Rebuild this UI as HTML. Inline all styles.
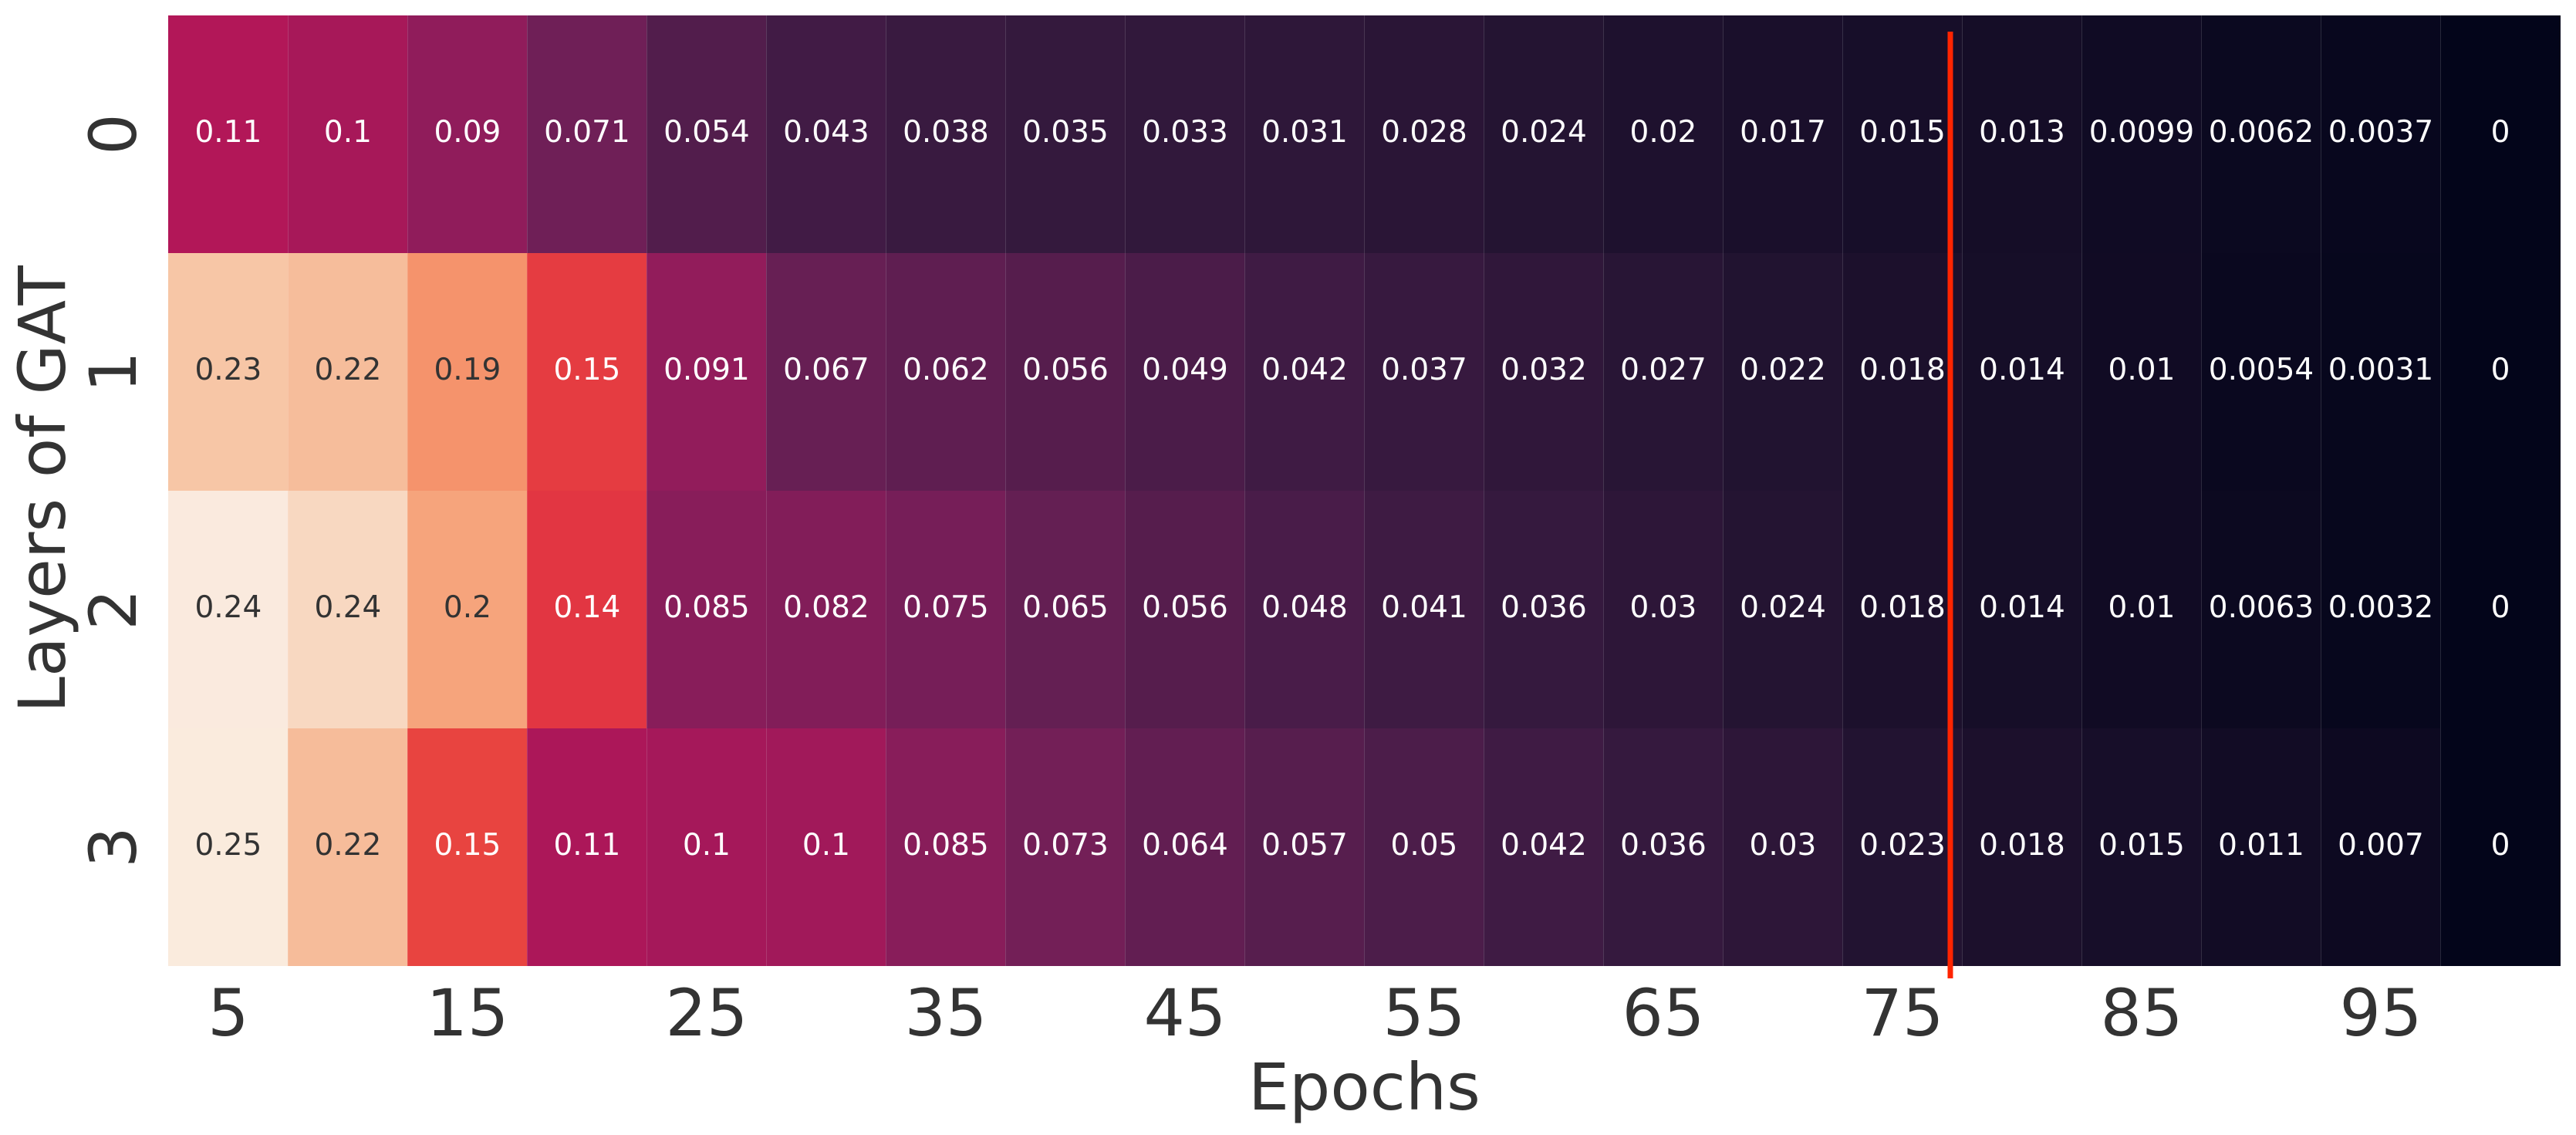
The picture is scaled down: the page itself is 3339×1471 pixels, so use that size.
<!DOCTYPE html>
<html>
<head>
<meta charset="utf-8">
<title>Layers of GAT heatmap</title>
<style>
html,body{margin:0;padding:0;background:#fff;width:3339px;height:1471px;overflow:hidden}
svg{display:block}
text{font-family:"DejaVu Sans","Liberation Sans",sans-serif}
</style>
</head>
<body>
<svg id="chart" xmlns="http://www.w3.org/2000/svg" width="3339" height="1471" viewBox="0 0 3339 1471"></svg>
<script>
const epochs = [5,10,15,20,25,30,35,40,45,50,55,60,65,70,75,80,85,90,95,100];
const layers = [0,1,2,3];
const layer0Values = [0.11,0.1035,0.09,0.071,0.054,0.043,0.038,0.035,0.033,0.031,0.028,0.024,0.02,0.017,0.015,0.013,0.0099,0.0062,0.0037,0];
const layer1Values = [0.2255,0.22,0.1945,0.148,0.091,0.067,0.062,0.056,0.049,0.042,0.037,0.032,0.027,0.022,0.018,0.014,0.01,0.0054,0.0031,0];
const layer2Values = [0.2449,0.2352,0.2045,0.1445,0.085,0.082,0.075,0.065,0.056,0.048,0.041,0.036,0.03,0.024,0.018,0.014,0.01,0.0063,0.0032,0];
const layer3Values = [0.25,0.2195,0.1525,0.1065,0.1025,0.1,0.085,0.073,0.064,0.057,0.05,0.042,0.036,0.03,0.023,0.018,0.015,0.011,0.007,0];
const seriesByLayer = [layer0Values,layer1Values,layer2Values,layer3Values];
const xTickLabels = [5,15,25,35,45,55,65,75,85,95];
const yTickLabels = ["0","1","2","3"];
const thresholdEpoch = 74.5;
const colorMax = 0.25;

const NS = "http://www.w3.org/2000/svg";
const svg = document.getElementById("chart");
const plot = {left:218.4, right:3318.5, top:20, bottom:1252};
const cellW = (plot.right - plot.left) / epochs.length;
const cellH = (plot.bottom - plot.top) / layers.length;
const xOfIndex = i => plot.left + i * cellW;
const yOfIndex = i => plot.top + i * cellH;
const xOfEpoch = e => plot.left + (e / 5) * cellW;

const rocketStops = [
  [0,"#03051a"],[0.091,"#221331"],[0.143,"#35193e"],[0.182,"#451c47"],[0.273,"#691f55"],[0.286,"#701f57"],
  [0.364,"#921c5b"],[0.429,"#ad1759"],[0.455,"#b91657"],[0.545,"#d92847"],[0.571,"#e13342"],[0.636,"#ed503e"],
  [0.714,"#f37651"],[0.727,"#f47d57"],[0.818,"#f6a47c"],[0.857,"#f6b48f"],[0.909,"#f7c9aa"],[0.98,"#faeade"],[1,"#faebdd"]
];
function hexToRgb(h){return [1,3,5].map(i=>parseInt(h.substr(i,2),16));}
function colorRgb(v){
  const t = Math.max(0, Math.min(1, v / colorMax));
  for (let i = 1; i < rocketStops.length; i++) {
    if (t <= rocketStops[i][0]) {
      const a = rocketStops[i-1], b = rocketStops[i];
      const f = (t - a[0]) / (b[0] - a[0]);
      const ca = hexToRgb(a[1]), cb = hexToRgb(b[1]);
      return ca.map((c,k)=>Math.round(c + (cb[k]-c)*f));
    }
  }
  return hexToRgb(rocketStops[rocketStops.length-1][1]);
}
function luminance(rgb){
  const l = rgb.map(c=>{c/=255;return c<=0.03928?c/12.92:Math.pow((c+0.055)/1.055,2.4);});
  return 0.2126*l[0]+0.7152*l[1]+0.0722*l[2];
}
function make(tag, attrs, txt){
  const el = document.createElementNS(NS, tag);
  for (const k in attrs) el.setAttribute(k, attrs[k]);
  if (txt !== undefined) el.textContent = txt;
  return el;
}
const formatValue = v => String(Number(v.toPrecision(2)));

seriesByLayer.forEach((row, r) => {
  row.forEach((v, c) => {
    const rgb = colorRgb(v);
    const x0 = Math.round(xOfIndex(c)), x1 = Math.round(xOfIndex(c+1));
    const y0 = Math.round(yOfIndex(r)), y1 = Math.round(yOfIndex(r+1));
    const cell = make("rect", {x:x0, y:y0, width:x1-x0, height:y1-y0, fill:`rgb(${rgb.join(",")})`, "shape-rendering":"crispEdges"});
    
    
    svg.appendChild(cell);
  });
});

epochs.forEach((e, c) => {
  if (c === 0) return;
  const sep = make("rect", {x:Math.round(xOfIndex(c)), y:plot.top, width:1, height:plot.bottom-plot.top, fill:"#ffffff", "fill-opacity":"0.14", "shape-rendering":"crispEdges"});
  
  
  svg.appendChild(sep);
});

seriesByLayer.forEach((row, r) => {
  row.forEach((v, c) => {
    const lum = luminance(colorRgb(v));
    const t = make("text", {x:xOfIndex(c)+cellW/2, y:yOfIndex(r)+cellH/2+10, "text-anchor":"middle", "font-size":"39", fill: lum > 0.408 ? "#333333" : "#ffffff"}, formatValue(v));
    
    
    svg.appendChild(t);
  });
});

xTickLabels.forEach(e => {
  const t = make("text", {x:xOfEpoch(e)-cellW/2, y:1342, "text-anchor":"middle", "font-size":"84", fill:"#333333"}, String(e));
  
  
  svg.appendChild(t);
});

yTickLabels.forEach((l, r) => {
  const cy = yOfIndex(r) + cellH/2;
  const t = make("text", {x:176, y:cy, "text-anchor":"middle", "font-size":"84", fill:"#333333", transform:`rotate(-90 176 ${cy})`}, l);
  
  
  svg.appendChild(t);
});

const xTitle = make("text", {x:(plot.left+plot.right)/2, y:1438, "text-anchor":"middle", "font-size":"84", fill:"#333333"}, "Epochs");


svg.appendChild(xTitle);

const yTitle = make("text", {x:84, y:634, "text-anchor":"middle", "font-size":"84", fill:"#333333", transform:"rotate(-90 84 634)"}, "Layers of GAT");


svg.appendChild(yTitle);

const lineX = xOfEpoch(thresholdEpoch);
const redLine = make("rect", {x:lineX-3.5, y:41, width:7, height:1227, fill:"#ff2400"});


svg.appendChild(redLine);
</script>
</body>
</html>
